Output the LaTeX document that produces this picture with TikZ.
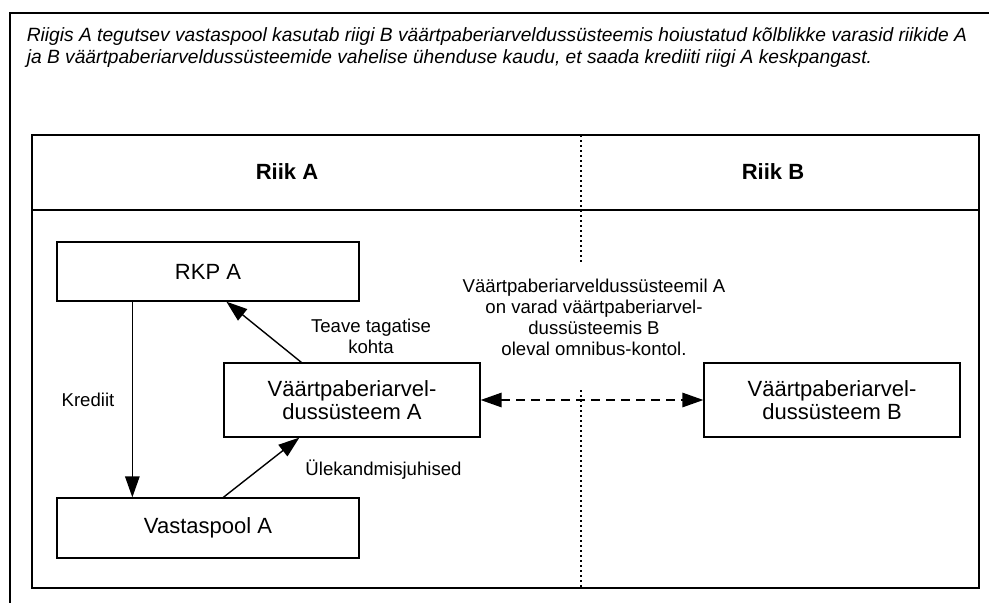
\documentclass[tikz,border=0pt]{standalone}
\usepackage{fontspec}
\setmainfont{Liberation Sans}
\usetikzlibrary{arrows.meta}
\tikzset{
  box/.style={draw, line width=1.3pt, align=center, inner sep=0pt, font=\fontsize{22}{22.7}\selectfont},
  lbl/.style={align=center, inner sep=1pt, font=\fontsize{18.6}{21}\selectfont},
  tip/.tip={Triangle[length=21pt,width=14.5pt]},
  arr/.style={line width=1.4pt, -tip},
}
\begin{document}
\begin{tikzpicture}[x=1pt, y=-1pt, line width=1.6pt]
  \useasboundingbox (0,0) rectangle (989,603);
  % raam
  \draw (10,603) -- (10,12.7) -- (989,12.7);
  \node[lbl, anchor=west, align=left, font=\itshape\fontsize{19.2}{21.5}\selectfont] (title) at (25,47.5)
    {Riigis A tegutsev vastaspool kasutab riigi B väärtpaberiarveldussüsteemis hoiustatud kõlblikke varasid riikide A\\
     ja B väärtpaberiarveldussüsteemide vahelise ühenduse kaudu, et saada krediiti riigi A keskpangast.};
  \draw (32,135) rectangle (979,588);
  \draw (32,210) -- (979,210);
  % riikide piir
  \draw[line width=1.2pt, dash pattern=on 2pt off 3pt] (581,135) -- (581,264) (581,390) -- (581,588);
  \node[font=\bfseries\fontsize{22}{24}\selectfont] (riikA) at (287,172) {Riik A};
  \node[font=\bfseries\fontsize{22}{24}\selectfont] (riikB) at (773,172) {Riik B};
  % kastid
  \node[box, minimum width=302pt, minimum height=59pt] (rkp) at (208,271.5) {RKP A};
  \node[box, minimum width=302pt, minimum height=60pt] (vastaspool) at (208,528) {Vastaspool A};
  \node[box, minimum width=256pt, minimum height=74pt] (vpsA) at (352,400) {Väärtpaberiarvel-\\dussüsteem A};
  \node[box, minimum width=256pt, minimum height=74pt] (vpsB) at (832,400) {Väärtpaberiarvel-\\dussüsteem B};
  % nooled
  \draw[arr] ([xshift=76pt]rkp.south west) -- ([xshift=76pt]vastaspool.north west);
  \draw[arr] ([xshift=78pt]vpsA.north west) -- ([xshift=170pt]rkp.south west);
  \draw[arr] ([xshift=167pt]vastaspool.north west) -- ([xshift=76pt]vpsA.south west);
  \draw[line width=1.4pt, dash pattern=on 9pt off 6pt, tip-tip] (vpsA.east) -- (vpsB.west);
  % sildid
  \node[lbl] (krediit) at (88,400) {Krediit};
  \node[lbl] (teave) at (371,336.5) {Teave tagatise\\kohta};
  \node[lbl] (ulek) at (383.5,470) {Ülekandmisjuhised};
  \node[lbl] (omnibus) at (594,317) {Väärtpaberiarveldussüsteemil A\\on varad väärtpaberiarvel-\\dussüsteemis B\\oleval omnibus-kontol.};
\end{tikzpicture}
\end{document}
